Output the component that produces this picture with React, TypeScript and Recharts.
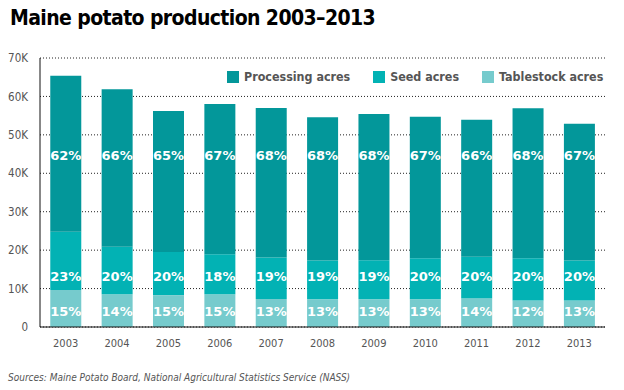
import React from 'react';
import { BarChart, Bar, XAxis, YAxis, CartesianGrid, LabelList } from 'recharts';

const years = ['2003', '2004', '2005', '2006', '2007', '2008', '2009', '2010', '2011', '2012', '2013'];

// acres
const tablestock = [9600, 8500, 8300, 8500, 7300, 7200, 7200, 7200, 7500, 6900, 6900];
const seed = [15200, 12400, 11200, 10400, 10800, 10100, 10200, 10700, 10800, 11000, 10400];
const processing = [40600, 41000, 36700, 39100, 38900, 37300, 38000, 36800, 35600, 39000, 35600];

// share labels as printed on the bars
const tablestockPct = ['15%', '14%', '15%', '15%', '13%', '13%', '13%', '13%', '14%', '12%', '13%'];
const seedPct = ['23%', '20%', '20%', '18%', '19%', '19%', '19%', '20%', '20%', '20%', '20%'];
const processingPct = ['62%', '66%', '65%', '67%', '68%', '68%', '68%', '67%', '66%', '68%', '67%'];

const yTicks = [0, 10000, 20000, 30000, 40000, 50000, 60000, 70000];

const COLORS = {
  processing: '#03979a',
  seed: '#02b2b4',
  tablestock: '#76cbcd',
};

const legendItems = [
  { name: 'Processing acres', color: COLORS.processing },
  { name: 'Seed acres', color: COLORS.seed },
  { name: 'Tablestock acres', color: COLORS.tablestock },
];

const data = years.map((year, i) => ({
  year,
  tablestock: tablestock[i],
  seed: seed[i],
  processing: processing[i],
}));

const FONT = '"DejaVu Sans Condensed", "DejaVu Sans", sans-serif';

// labels sit in fixed rows (given in acres), not centred in their segment
const makeLabel = (labels: string[], values: number[], bases: number[], anchor: number) => (props: any) => {
  const { x, y, width, height, index } = props;
  const v = values[index];
  const bottom = y + height;
  const cy = bottom - ((anchor - bases[index]) * height) / v;
  return (
    <text
      x={x + width / 2}
      y={cy}
      textAnchor="middle"
      dominantBaseline="central"
      fill="#fff"
      fontFamily='"DejaVu Sans", sans-serif'
      fontWeight="bold"
      fontSize={13}
    >
      {labels[index]}
    </text>
  );
};

const zeros = years.map(() => 0);
const seedBase = tablestock;
const procBase = tablestock.map((t, i) => t + seed[i]);

export default function App() {
  return (
    <div style={{ position: 'relative', width: 624, height: 390, background: '#fff' }}>
      <style>{'body{margin:0}'}</style>
      <div
        style={{
          position: 'absolute',
          left: 10,
          top: 6,
          fontFamily: FONT,
          fontWeight: 'bold',
          fontSize: 21,
          letterSpacing: -0.6,
          color: '#000',
          whiteSpace: 'nowrap',
        }}
      >
        Maine potato production 2003–2013
      </div>
      <BarChart
        width={624}
        height={390}
        data={data}
        margin={{ top: 58, right: 19, bottom: 33, left: 0 }}
        barCategoryGap="20%"
      >
        <XAxis
          dataKey="year"
          height={30}
          axisLine={{ stroke: '#111' }}
          tickLine={false}
          tick={{ fill: '#555', fontSize: 11, fontFamily: FONT }}
          tickMargin={6}
        />
        <YAxis
          width={40}
          domain={[0, 70000]}
          ticks={yTicks}
          axisLine={{ stroke: '#111' }}
          tickLine={false}
          tickMargin={6}
          tick={{ fill: '#555', fontSize: 11.5, fontFamily: FONT }}
          tickFormatter={(v: number) => (v === 0 ? '0' : `${v / 1000}K`)}
        />
        <Bar dataKey="tablestock" stackId="a" fill={COLORS.tablestock} isAnimationActive={false}>
          <LabelList dataKey="tablestock" content={makeLabel(tablestockPct, tablestock, zeros, 4000)} />
        </Bar>
        <Bar dataKey="seed" stackId="a" fill={COLORS.seed} isAnimationActive={false}>
          <LabelList dataKey="seed" content={makeLabel(seedPct, seed, seedBase, 13100)} />
        </Bar>
        <Bar dataKey="processing" stackId="a" fill={COLORS.processing} isAnimationActive={false}>
          <LabelList dataKey="processing" content={makeLabel(processingPct, processing, procBase, 44500)} />
        </Bar>
        <CartesianGrid vertical={false} stroke="#222" strokeDasharray="1 2" />
      </BarChart>
      <div
        style={{
          position: 'absolute',
          top: 69,
          left: 227,
          display: 'flex',
          gap: 23,
          fontFamily: FONT,
          fontWeight: 'bold',
          fontSize: 12.4,
          color: '#555',
          whiteSpace: 'nowrap',
        }}
      >
        {legendItems.map((it) => (
          <div key={it.name} style={{ display: 'flex', alignItems: 'center' }}>
            <span style={{ width: 12, height: 12, background: it.color, display: 'inline-block', marginRight: 5 }} />
            {it.name}
          </div>
        ))}
      </div>
      <div
        style={{
          position: 'absolute',
          left: 8,
          top: 372,
          fontFamily: FONT,
          fontStyle: 'italic',
          fontSize: 10,
          color: '#555',
          whiteSpace: 'nowrap',
        }}
      >
        Sources: Maine Potato Board, National Agricultural Statistics Service (NASS)
      </div>
    </div>
  );
}
